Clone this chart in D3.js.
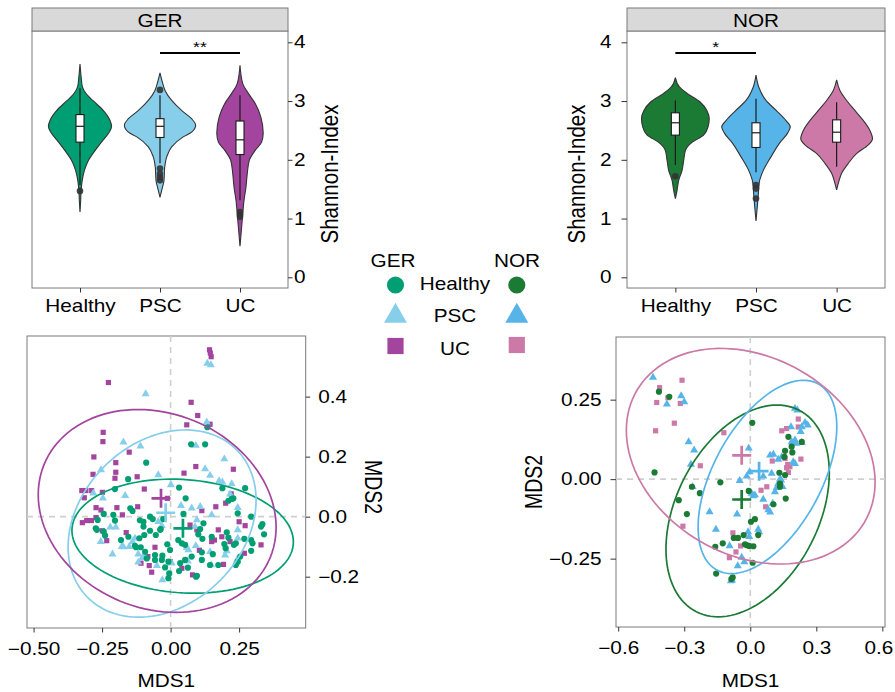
<!DOCTYPE html>
<html><head><meta charset="utf-8"><title>Shannon diversity and MDS by cohort</title>
<script src="https://cdn.jsdelivr.net/npm/d3@7/dist/d3.min.js"></script>
<style>html,body{margin:0;padding:0;background:#fff;}svg{display:block}</style>
</head><body>
<svg id="chart" width="895" height="692"></svg>
<script>
// ---------------- data ----------------
const categories = ["Healthy", "PSC", "UC"];
const shannonTicks = [0, 1, 2, 3, 4];
const gerColors = ["#009E73", "#87CEEB", "#A3449E"];
const norColors = ["#1B7A34", "#56B4E9", "#CC79A7"];

// violin outlines: [Shannon index, half width as fraction of category step]
const gerHealthyDensity = [[3.63,0],[3.40,0.015],[3.24,0.03],[3.12,0.08],[3.01,0.16],[2.84,0.29],[2.67,0.375],[2.57,0.395],[2.47,0.365],[2.33,0.285],[2.16,0.19],[1.99,0.105],[1.82,0.055],[1.65,0.028],[1.48,0.014],[1.30,0.008],[1.11,0]];
const gerPscDensity = [[3.48,0],[3.30,0.034],[3.18,0.063],[3.01,0.146],[2.84,0.27],[2.70,0.395],[2.59,0.445],[2.47,0.395],[2.39,0.29],[2.22,0.146],[2.05,0.084],[1.88,0.059],[1.65,0.05],[1.48,0.021],[1.36,0]];
const gerUcDensity = [[3.61,0],[3.30,0.034],[3.13,0.104],[2.96,0.19],[2.73,0.26],[2.45,0.29],[2.30,0.27],[2.16,0.19],[1.99,0.116],[1.77,0.091],[1.54,0.075],[1.31,0.05],[1.08,0.034],[0.86,0.021],[0.53,0]];
const norHealthyDensity = [[3.40,0],[3.24,0.05],[3.13,0.145],[2.98,0.31],[2.84,0.39],[2.70,0.42],[2.56,0.405],[2.42,0.35],[2.30,0.21],[2.16,0.125],[1.99,0.103],[1.82,0.083],[1.65,0.041],[1.48,0.021],[1.34,0]];
const norPscDensity = [[3.44,0],[3.24,0.034],[3.01,0.124],[2.84,0.25],[2.67,0.37],[2.56,0.425],[2.45,0.39],[2.28,0.29],[2.05,0.186],[1.82,0.091],[1.62,0.041],[1.42,0.029],[1.20,0.016],[0.96,0]];
const norUcDensity = [[3.36,0],[3.18,0.041],[3.01,0.124],[2.84,0.227],[2.67,0.33],[2.50,0.413],[2.36,0.445],[2.25,0.39],[2.11,0.25],[1.94,0.145],[1.77,0.062],[1.62,0.025],[1.49,0]];

// box stats: [lower whisker, q1, median, q3, upper whisker]
const gerBoxStats = [[1.57,2.30,2.57,2.77,3.22],[1.94,2.38,2.57,2.70,3.10],[1.31,2.09,2.34,2.66,3.10]];
const gerOutliers = [[1.47],[3.19,1.85,1.76,1.70,1.65],[1.11,1.07,1.03]];
const norBoxStats = [[1.91,2.42,2.63,2.80,3.01],[1.79,2.21,2.46,2.63,3.04],[1.88,2.30,2.47,2.68,2.98]];
const norOutliers = [[1.72],[1.57,1.51,1.34],[]];
const gerSignif = ["PSC", "UC", 3.82, "**"];
const norSignif = ["Healthy", "PSC", 3.82, "*"];

// MDS ordination points [MDS1, MDS2]
const gerHealthyPts = [[-0.089,0.180],[-0.155,0.125],[-0.203,0.092],[-0.147,0.028],[-0.139,0.019],[-0.244,0.009],[-0.209,0.006],[-0.266,-0.011],[-0.203,-0.013],[-0.112,-0.012],[-0.075,0.000],[-0.065,-0.008],[-0.273,-0.039],[-0.244,-0.050],[-0.239,-0.063],[-0.181,-0.078],[-0.154,-0.067],[-0.130,-0.097],[-0.114,-0.072],[-0.096,-0.061],[-0.099,-0.033],[-0.075,-0.047],[-0.054,-0.061],[-0.036,-0.041],[-0.027,-0.008],[-0.109,-0.102],[-0.093,-0.117],[-0.057,-0.128],[-0.030,-0.130],[-0.012,-0.092],[-0.020,-0.169],[-0.005,-0.189],[-0.008,-0.205],[0.134,0.298],[0.075,0.241],[0.126,0.241],[0.031,0.097],[0.189,0.095],[0.272,0.095],[0.055,0.061],[0.211,0.053],[0.223,0.059],[0.229,0.061],[0.245,0.011],[0.294,0.000],[0.335,-0.025],[0.330,-0.033],[0.341,-0.059],[0.120,-0.022],[0.047,0.009],[0.101,-0.059],[0.116,-0.074],[0.041,-0.089],[0.053,-0.094],[0.150,-0.067],[0.205,-0.052],[0.211,-0.070],[0.231,-0.094],[0.196,-0.091],[0.201,-0.105],[0.238,-0.089],[0.269,-0.074],[0.294,-0.078],[0.299,-0.089],[0.294,-0.114],[0.254,-0.133],[0.238,-0.161],[0.245,-0.150],[0.154,-0.125],[0.114,-0.119],[0.077,-0.133],[0.063,-0.170],[0.096,-0.197],[0.031,-0.181],[0.174,-0.161],[0.144,-0.161],[-0.002,-0.111],[-0.008,-0.150],[0.108,-0.041],[-0.099,-0.017],[-0.038,-0.044],[0.028,-0.078],[-0.032,-0.144],[0.053,-0.144],[0.114,-0.144],[-0.269,-0.044],[-0.126,-0.102],[-0.087,-0.139],[-0.057,-0.144],[0.035,-0.155],[0.093,-0.200]];
const gerPscPts = [[-0.091,0.409],[-0.172,0.248],[-0.110,0.235],[-0.254,0.156],[-0.045,0.139],[-0.166,0.070],[-0.247,0.062],[-0.220,-0.035],[-0.200,-0.035],[-0.255,-0.083],[-0.212,-0.125],[-0.172,-0.101],[-0.130,-0.072],[-0.139,-0.083],[-0.045,-0.017],[-0.032,-0.030],[-0.050,-0.163],[-0.030,-0.211],[-0.118,-0.125],[-0.103,-0.137],[0.134,0.511],[0.147,0.506],[0.132,0.315],[0.092,0.237],[0.196,0.192],[0.126,0.159],[0.144,0.137],[0.177,0.119],[0.189,0.115],[0.223,0.109],[0.217,0.075],[0.038,0.037],[0.077,0.028],[0.108,0.033],[0.245,0.030],[0.096,-0.011],[0.089,-0.033],[0.245,-0.044],[0.245,-0.072],[0.059,-0.103],[0.092,-0.097],[0.205,-0.114],[0.199,-0.128],[0.148,-0.161],[0.063,-0.148],[0.150,0.006],[0.001,0.106],[-0.282,0.078],[-0.151,-0.100],[-0.118,-0.152],[0.004,-0.155],[0.065,-0.111],[0.144,-0.117],[0.242,-0.144],[-0.178,-0.100],[-0.093,-0.133]];
const gerUcPts = [[-0.227,0.447],[-0.246,0.281],[-0.247,0.250],[-0.151,0.215],[-0.280,0.199],[-0.200,0.180],[-0.200,0.148],[-0.283,0.141],[-0.203,0.128],[-0.324,0.087],[-0.309,0.087],[-0.288,0.087],[-0.315,0.063],[-0.249,0.081],[-0.272,0.030],[-0.254,0.022],[-0.196,0.030],[-0.176,0.006],[-0.120,0.033],[-0.272,-0.003],[-0.322,-0.020],[-0.306,-0.013],[-0.289,-0.013],[-0.249,-0.047],[-0.233,-0.080],[-0.162,-0.053],[-0.057,-0.102],[-0.083,-0.133],[-0.108,-0.155],[-0.078,-0.163],[-0.069,-0.185],[-0.001,-0.150],[0.142,0.556],[0.145,0.545],[0.148,0.533],[0.075,0.381],[0.099,0.337],[0.059,0.306],[0.144,0.308],[0.229,0.158],[0.092,0.167],[0.049,0.145],[0.165,0.033],[0.201,0.045],[0.114,0.020],[0.250,-0.017],[0.272,-0.030],[0.174,-0.044],[0.187,-0.067],[0.160,-0.078],[0.150,-0.083],[0.217,-0.083],[0.330,-0.094],[0.269,-0.122],[0.193,-0.159],[0.080,-0.194],[-0.012,0.061],[0.096,-0.044],[0.071,-0.028],[-0.096,0.092],[-0.122,0.133],[0.221,0.076],[0.105,-0.112],[0.041,-0.172]];
const norHealthyPts = [[-0.415,0.275],[-0.368,0.259],[-0.435,0.021],[-0.136,-0.010],[-0.265,-0.024],[-0.229,-0.044],[-0.325,-0.066],[-0.288,-0.110],[-0.159,-0.213],[-0.125,-0.202],[-0.155,-0.297],[-0.086,-0.314],[-0.075,-0.185],[-0.056,-0.185],[-0.030,-0.176],[-0.015,-0.208],[-0.005,-0.210],[-0.007,-0.037],[0.009,0.177],[-0.080,-0.309],[0.014,-0.211],[0.003,-0.134],[0.021,-0.126],[0.036,-0.176],[0.011,-0.263],[0.105,-0.079],[0.161,-0.061],[0.135,-0.014],[0.132,0.020],[0.158,0.089],[0.155,0.070],[0.173,0.133],[0.234,0.117],[0.188,0.102],[0.191,0.084],[0.158,0.013],[-0.024,-0.205],[0.135,-0.024]];
const norPscPts = [[-0.442,0.320],[-0.379,0.236],[-0.314,0.262],[-0.300,0.243],[-0.280,0.117],[-0.255,0.091],[-0.270,0.046],[-0.262,-0.024],[-0.185,-0.103],[-0.156,-0.158],[-0.060,-0.110],[-0.048,-0.005],[-0.007,0.097],[-0.003,0.023],[-0.094,-0.210],[-0.057,-0.273],[-0.083,-0.318],[-0.010,-0.166],[-0.005,-0.181],[-0.016,0.009],[0.006,-0.045],[0.021,-0.050],[-0.039,-0.246],[-0.027,-0.260],[0.036,-0.158],[0.040,-0.166],[0.059,-0.064],[0.082,-0.097],[0.090,-0.104],[0.102,-0.076],[0.112,-0.040],[0.059,0.009],[0.097,0.018],[0.090,0.075],[0.105,0.078],[0.127,0.062],[0.143,0.070],[0.127,-0.014],[0.140,-0.003],[0.147,-0.024],[0.203,0.123],[0.208,0.112],[0.203,0.222],[0.214,0.217],[0.229,0.149],[0.234,0.164],[0.249,0.178],[0.261,0.170],[0.185,0.164],[0.195,0.054],[0.203,0.049],[0.188,0.117],[0.234,0.115],[0.135,0.000],[0.120,-0.027],[0.014,-0.053],[-0.088,-0.320]];
const norUcPts = [[-0.310,0.311],[-0.412,0.288],[-0.374,0.256],[-0.425,0.241],[-0.318,0.238],[-0.345,0.176],[-0.430,0.152],[-0.120,0.146],[-0.227,0.042],[-0.306,-0.148],[-0.079,-0.169],[-0.044,-0.210],[-0.065,-0.229],[-0.095,-0.247],[0.143,0.152],[0.165,0.159],[0.218,0.189],[0.218,0.164],[0.188,0.112],[0.100,0.057],[0.158,0.065],[0.170,0.046],[0.230,0.063],[0.165,0.036],[0.173,0.021],[0.075,-0.024],[0.049,-0.035],[0.070,-0.087],[0.180,0.039]];

// group centroids [MDS1, MDS2]
const gerCentroids = [[0.045,-0.039],[-0.018,0.013],[-0.035,0.061]];
const norCentroids = [[-0.039,-0.064],[0.040,0.025],[-0.039,0.075]];
// confidence ellipses: [centre MDS1, centre MDS2, half width, half height, correlation]
const gerEllipses = [[0.044,-0.065,0.404,0.190,-0.10],[-0.031,-0.023,0.343,0.312,0.25],[-0.049,0.019,0.434,0.338,-0.16]];
const norEllipses = [[-0.012,-0.100,0.371,0.333,0.36],[0.078,0.007,0.315,0.304,0.52],[0.002,0.072,0.565,0.339,-0.24]];

const gerXTicks = [-0.5, -0.25, 0, 0.25];
const gerYTicks = [-0.2, 0, 0.2, 0.4];
const norXTicks = [-0.6, -0.3, 0, 0.3, 0.6];
const norYTicks = [-0.25, 0, 0.25];

// ---------------- drawing ----------------
const FAM = "'Liberation Sans', Arial, Helvetica, sans-serif";
const FS = 17.6, SX = 1.18;
const svg = d3.select("#chart");
svg.append("rect").attr("width", 895).attr("height", 692).attr("fill", "#fff");

function stretch(sel, shift) {
  sel.each(function () {
    const t = d3.select(this);
    const ax = +t.attr("x") || 0;
    t.attr("transform", `translate(${ax * (1 - SX) + (shift || 0)},0) scale(${SX},1)`);
  });
}
function hText(g, x, y, s, anchor, size) {
  const t = g.append("text").attr("x", x).attr("y", y).attr("text-anchor", anchor || "middle")
    .attr("font-family", FAM).attr("font-size", size || FS).attr("fill", "#000").text(s);
  stretch(t);
  return t;
}
function vText(g, x, y, s, angle, size) {
  g.append("text").attr("transform", `translate(${x},${y}) rotate(${angle}) scale(1,${SX})`)
    .attr("text-anchor", "middle").attr("font-family", FAM).attr("font-size", size).attr("fill", "#000").text(s);
}
function styleAxis(axg) {
  axg.select(".domain").remove();
  axg.attr("font-family", FAM).attr("font-size", FS);
  axg.selectAll("line").attr("stroke", "#333").attr("stroke-width", 1);
  axg.selectAll("text").attr("fill", "#000");
  stretch(axg.selectAll("text"));
  return axg;
}

function violinPanel(c) {
  const g = svg.append("g");
  const x = d3.scalePoint().domain(categories).range([c.x0, c.x1]).padding(0.6);
  const step = x.step();
  const y = d3.scaleLinear().domain([0, 4]).range([277.3, 42.3]);
  g.append("rect").attr("x", c.x0).attr("y", c.top).attr("width", c.x1 - c.x0).attr("height", c.bottom - c.top)
    .attr("fill", "#fff").attr("stroke", "#7a7a7a").attr("stroke-width", 1);
  g.append("rect").attr("x", c.x0).attr("y", 8).attr("width", c.x1 - c.x0).attr("height", c.top - 8)
    .attr("fill", "#D9D9D9").attr("stroke", "#7a7a7a").attr("stroke-width", 1);
  hText(g, (c.x0 + c.x1) / 2, 26.7, c.title);

  categories.forEach((cat, i) => {
    const cx = x(cat);
    const area = d3.area().curve(d3.curveMonotoneY)
      .y(d => y(d[0])).x0(d => cx - d[1] * step).x1(d => cx + d[1] * step);
    g.append("path").attr("d", area(c.densities[i])).attr("fill", c.colors[i])
      .attr("stroke", "#333").attr("stroke-width", 1.1);
    const b = c.boxes[i];
    g.append("line").attr("x1", cx).attr("x2", cx).attr("y1", y(b[4])).attr("y2", y(b[0]))
      .attr("stroke", "#1a1a1a").attr("stroke-width", 1.2);
    const bw = 0.1 * step;
    g.append("rect").attr("x", cx - bw / 2).attr("width", bw).attr("y", y(b[3])).attr("height", y(b[1]) - y(b[3]))
      .attr("fill", "#fff").attr("stroke", "#1a1a1a").attr("stroke-width", 1.1);
    g.append("line").attr("x1", cx - bw / 2).attr("x2", cx + bw / 2).attr("y1", y(b[2])).attr("y2", y(b[2]))
      .attr("stroke", "#1a1a1a").attr("stroke-width", 1.2);
    g.selectAll(null).data(c.outliers[i]).enter().append("circle")
      .attr("cx", cx).attr("cy", d => y(d)).attr("r", 3.3).attr("fill", "#333").attr("fill-opacity", 0.9);
  });

  const s = c.sig;
  g.append("line").attr("x1", x(s[0])).attr("x2", x(s[1])).attr("y1", y(s[2])).attr("y2", y(s[2]))
    .attr("stroke", "#000").attr("stroke-width", 2);
  hText(g, (x(s[0]) + x(s[1])) / 2, y(s[2]) - 1, s[3], "middle", 15);

  const yAxis = (c.side === "right" ? d3.axisRight(y) : d3.axisLeft(y))
    .tickValues(shannonTicks).tickSize(c.tick).tickPadding(c.pad).tickFormat(d3.format("d"));
  styleAxis(g.append("g").attr("transform", `translate(${c.side === "right" ? c.x1 : c.x0},0)`).call(yAxis));
  const xAxis = d3.axisBottom(x).tickSize(4.5).tickPadding(7);
  styleAxis(g.append("g").attr("transform", `translate(0,${c.bottom})`).call(xAxis));
  vText(g, c.titleX, 174, "Shannon-Index", -90, 20.5);
}

violinPanel({x0: 32, x1: 288, top: 31, bottom: 288, title: "GER", colors: gerColors,
  densities: [gerHealthyDensity, gerPscDensity, gerUcDensity], boxes: gerBoxStats, outliers: gerOutliers,
  sig: gerSignif, side: "right", tick: 4.5, pad: 1.5, titleX: 338});
violinPanel({x0: 627, x1: 885, top: 31, bottom: 288, title: "NOR", colors: norColors,
  densities: [norHealthyDensity, norPscDensity, norUcDensity], boxes: norBoxStats, outliers: norOutliers,
  sig: norSignif, side: "left", tick: 5.5, pad: 10, titleX: 585});

const symbolTypes = [d3.symbolCircle, d3.symbolTriangle, d3.symbolSquare];
const symbolSizes = [30, 28, 27];

function scatterPanel(c) {
  const g = svg.append("g");
  const x = d3.scaleLinear().domain(c.xd).range([c.x0, c.x1]);
  const y = d3.scaleLinear().domain(c.yd).range([c.bottom, c.top]);
  g.append("rect").attr("x", c.x0).attr("y", c.top).attr("width", c.x1 - c.x0).attr("height", c.bottom - c.top)
    .attr("fill", "#fff").attr("stroke", "#7a7a7a").attr("stroke-width", 1);
  g.append("line").attr("x1", x(0)).attr("x2", x(0)).attr("y1", c.top).attr("y2", c.bottom)
    .attr("stroke", "#cfcfcf").attr("stroke-width", 1.6).attr("stroke-dasharray", "6,5");
  g.append("line").attr("x1", c.x0).attr("x2", c.x1).attr("y1", y(0)).attr("y2", y(0))
    .attr("stroke", "#cfcfcf").attr("stroke-width", 1.6).attr("stroke-dasharray", "6,5");

  [2, 1, 0].forEach(i => {
    const sym = d3.symbol().type(symbolTypes[i]).size(symbolSizes[i]);
    g.selectAll(null).data(c.groups[i]).enter().append("path")
      .attr("d", sym).attr("transform", d => `translate(${x(d[0])},${y(d[1])})`)
      .attr("fill", c.colors[i]);
  });

  const line = d3.line().x(d => x(d[0])).y(d => y(d[1])).curve(d3.curveLinearClosed);
  c.ellipses.forEach((e, i) => {
    const pts = d3.range(0, 120).map(k => {
      const t = 2 * Math.PI * k / 120;
      return [e[0] + e[2] * Math.cos(t), e[1] + e[3] * (e[4] * Math.cos(t) + Math.sqrt(1 - e[4] * e[4]) * Math.sin(t))];
    });
    g.append("path").attr("d", line(pts)).attr("fill", "none").attr("stroke", c.colors[i]).attr("stroke-width", 1.7);
  });

  c.centroids.forEach((p, i) => {
    const px = x(p[0]), py = y(p[1]);
    g.append("path").attr("d", `M${px - 9.5},${py}H${px + 9.5}M${px},${py - 9.5}V${py + 9.5}`)
      .attr("stroke", c.colors[i]).attr("stroke-width", 2.7).attr("fill", "none");
  });

  const yAxis = (c.side === "right" ? d3.axisRight(y) : d3.axisLeft(y))
    .tickValues(c.yticks).tickFormat(d3.format(c.yfmt)).tickSize(c.tick).tickPadding(c.pad);
  styleAxis(g.append("g").attr("transform", `translate(${c.side === "right" ? c.x1 : c.x0},0)`).call(yAxis));
  const xAxis = d3.axisBottom(x).tickValues(c.xticks).tickFormat(d3.format(c.xfmt)).tickSize(4.5).tickPadding(10);
  const xg = styleAxis(g.append("g").attr("transform", `translate(0,${c.bottom})`).call(xAxis));
  if (c.lastShift) stretch(xg.selectAll(".tick:last-of-type text"), c.lastShift);
  hText(g, (c.x0 + c.x1) / 2, 687, "MDS1");
  vText(g, c.titleX, c.titleY, "MDS2", c.side === "right" ? 90 : -90, 19.5);
}

scatterPanel({x0: 27, x1: 305.7, top: 336, bottom: 628, xd: [-0.524, 0.493], yd: [-0.371, 0.602],
  groups: [gerHealthyPts, gerPscPts, gerUcPts], colors: gerColors, ellipses: gerEllipses, centroids: gerCentroids,
  xticks: gerXTicks, yticks: gerYTicks, xfmt: ".2f", yfmt: ".1f", side: "right", tick: 4.5, pad: 8,
  titleX: 365, titleY: 487});
scatterPanel({x0: 616, x1: 885, top: 337, bottom: 627, xd: [-0.610, 0.612], yd: [-0.465, 0.447],
  groups: [norHealthyPts, norPscPts, norUcPts], colors: norColors, ellipses: norEllipses, centroids: norCentroids,
  xticks: norXTicks, yticks: norYTicks, xfmt: ".1f", yfmt: ".2f", side: "left", tick: 5.5, pad: 9,
  titleX: 541.7, titleY: 482, lastShift: -4});

// ---------------- legend ----------------
const lg = svg.append("g");
hText(lg, 393, 266.7, "GER");
hText(lg, 517, 266.7, "NOR");
const legendRows = [285, 316, 346];
const legendBaselines = [290, 321.7, 355];
const legendSizes = [230, 229, 262];
categories.forEach((cat, i) => {
  const sym = d3.symbol().type(symbolTypes[i]).size(legendSizes[i]);
  lg.append("path").attr("d", sym).attr("transform", `translate(395.5,${legendRows[i]})`).attr("fill", gerColors[i]);
  lg.append("path").attr("d", sym).attr("transform", `translate(516.8,${legendRows[i] - (i === 2 ? 1 : 0)})`).attr("fill", norColors[i]);
  hText(lg, 455, legendBaselines[i], cat);
});
</script>
</body></html>
